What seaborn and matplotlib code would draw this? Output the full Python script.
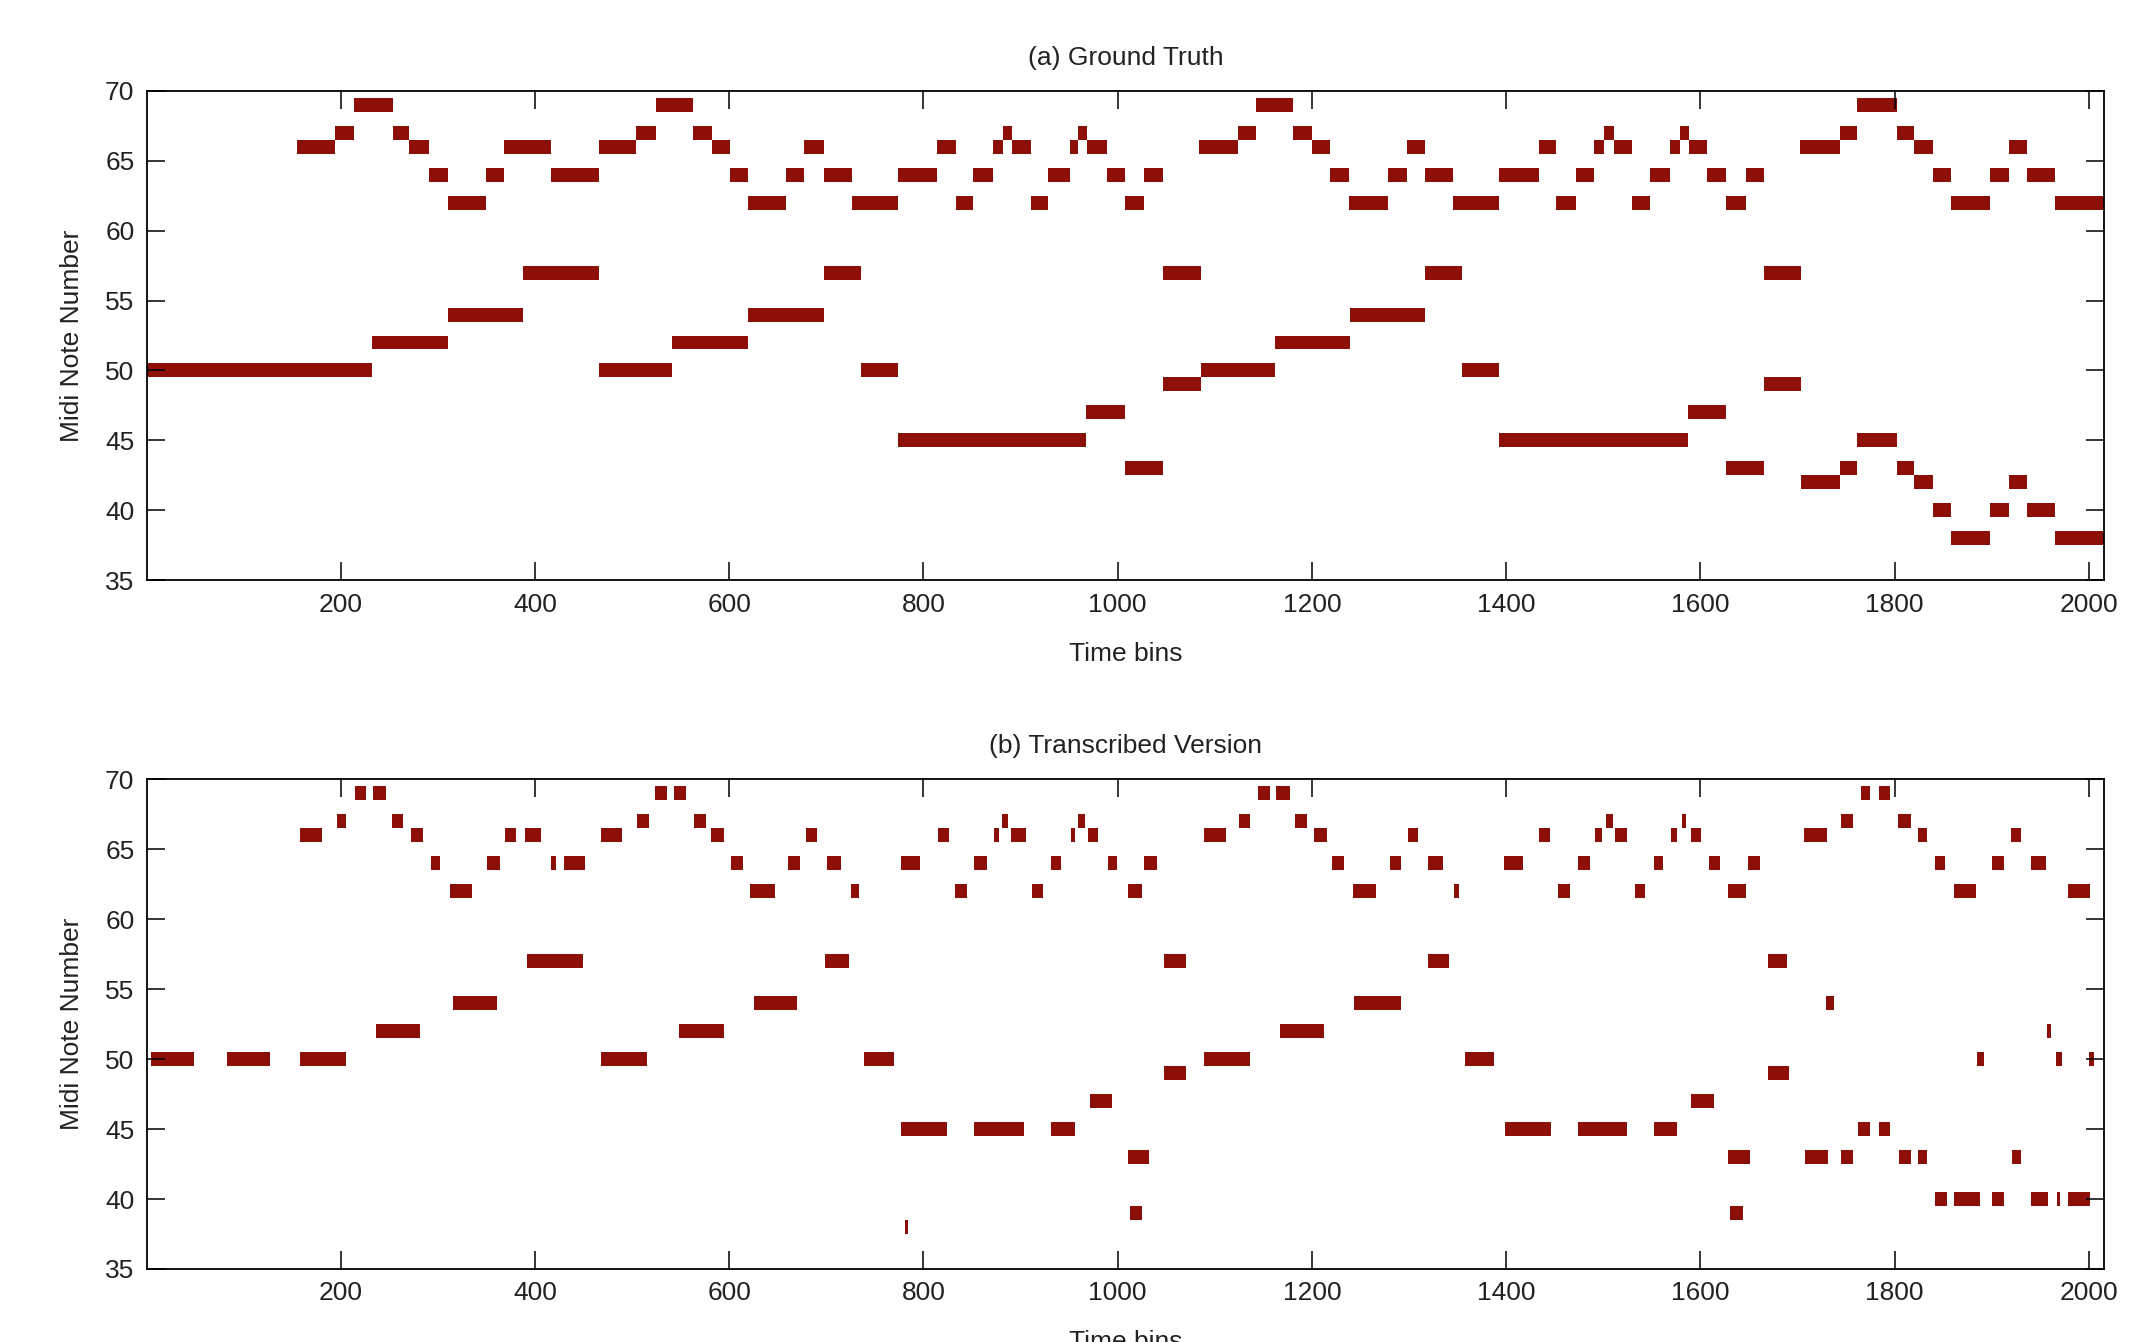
import numpy as np
import pandas as pd
import seaborn as sns
import matplotlib
matplotlib.use("Agg")
import matplotlib.pyplot as plt
from matplotlib.colors import ListedColormap

# ---------------- data ----------------
N_BINS = 2015
PITCH_MIN, PITCH_MAX = 35, 70

x_ticks = [200, 400, 600, 800, 1000, 1200, 1400, 1600, 1800, 2000]
y_ticks = [35, 40, 45, 50, 55, 60, 65, 70]

titles = ["(a) Ground Truth", "(b) Transcribed Version"]
x_label = "Time bins"
y_label = "Midi Note Number"

# Ground truth notes: (pitch, start bin, end bin)
gt_pitch = [66, 67, 69, 67, 66, 64, 62, 64, 66, 64, 66, 67, 69, 67, 66, 64, 62, 64, 66, 64,
            62, 64, 66, 62, 64, 66, 67, 66, 62, 64, 66, 67, 66, 64, 62, 64, 66, 67, 69, 67,
            66, 64, 62, 64, 66, 64, 62, 64, 66, 62, 64, 66, 67, 66, 62, 64, 66, 67, 66, 64,
            62, 64, 66, 67, 69, 67, 66, 64, 62, 64, 66, 64, 62,
            50, 52, 54, 57, 50, 52, 54, 57, 50, 45, 47, 43, 57, 49, 50, 52, 54, 57, 50, 45,
            47, 43, 57, 49, 42, 43, 45, 43, 42, 40, 38, 40, 42, 40, 38]
gt_start = [156, 195, 214, 254, 271, 291, 311, 350, 369, 417, 466, 505, 525, 563, 583, 601, 620, 659, 678, 698,
            727, 774, 814, 834, 852, 872, 882, 892, 911, 929, 951, 960, 969, 989, 1008, 1028, 1084, 1124, 1143, 1181,
            1201, 1219, 1239, 1279, 1298, 1317, 1346, 1393, 1434, 1452, 1472, 1491, 1501, 1511, 1530, 1549, 1569, 1579, 1589, 1607,
            1627, 1647, 1703, 1744, 1762, 1803, 1820, 1840, 1858, 1899, 1918, 1937, 1966,
            1, 233, 311, 388, 466, 542, 620, 698, 736, 774, 968, 1008, 1047, 1047, 1086, 1162, 1240, 1317, 1355, 1393,
            1588, 1627, 1666, 1666, 1704, 1744, 1762, 1803, 1820, 1840, 1858, 1899, 1918, 1937, 1966]
gt_end = [195, 214, 254, 271, 291, 311, 350, 369, 417, 466, 505, 525, 563, 583, 601, 620, 659, 678, 698, 727,
          774, 814, 834, 852, 872, 882, 892, 911, 929, 951, 960, 969, 989, 1008, 1028, 1047, 1124, 1143, 1181, 1201,
          1219, 1239, 1279, 1298, 1317, 1346, 1393, 1434, 1452, 1472, 1491, 1501, 1511, 1530, 1549, 1569, 1579, 1589, 1607, 1627,
          1647, 1666, 1744, 1762, 1803, 1820, 1840, 1858, 1899, 1918, 1937, 1966, 2016,
          233, 311, 388, 466, 542, 620, 698, 736, 774, 968, 1008, 1047, 1086, 1086, 1162, 1240, 1317, 1355, 1393, 1588,
          1627, 1666, 1704, 1704, 1744, 1762, 1803, 1820, 1840, 1858, 1899, 1918, 1937, 1966, 2016]

# Transcribed notes: (pitch, start bin, end bin)
tr_pitch = [66, 67, 69, 69, 67, 66, 64, 62, 64, 66, 66, 64, 64, 66, 67, 69, 69, 67, 66, 64,
            62, 64, 66, 64, 62, 64, 66, 62, 64, 66, 67, 66, 62, 64, 66, 67, 66, 64, 62, 64,
            66, 67, 69, 69, 67, 66, 64, 62, 64, 66, 64, 62, 64, 66, 62, 64, 66, 67, 66, 62,
            64, 66, 67, 66, 64, 62, 64, 66, 67, 69, 69, 67, 66, 64, 62, 64, 66, 64, 62,
            50, 50, 50, 52, 54, 57, 50, 52, 54, 57, 50, 38, 45, 45, 45, 47, 43, 39, 57, 49,
            50, 52, 54, 57, 50, 45, 45, 45, 47, 43, 39, 57, 49, 43, 54, 43, 45, 45, 43, 43,
            40, 40, 50, 40, 43, 40, 52, 40, 50, 40, 50]
tr_start = [159, 197, 215, 234, 253, 273, 293, 313, 351, 370, 390, 417, 430, 468, 506, 524, 544, 564, 582, 602,
            622, 661, 680, 701, 726, 777, 815, 833, 853, 873, 881, 891, 912, 932, 952, 960, 970, 990, 1011, 1028,
            1089, 1125, 1145, 1163, 1183, 1203, 1221, 1243, 1281, 1299, 1320, 1347, 1398, 1434, 1454, 1474, 1492, 1503, 1512, 1533,
            1553, 1570, 1581, 1591, 1609, 1629, 1649, 1707, 1745, 1766, 1784, 1804, 1824, 1842, 1862, 1901, 1920, 1941, 1979,
            5, 83, 159, 237, 316, 392, 468, 549, 626, 699, 739, 782, 777, 853, 932, 972, 1011, 1013, 1048, 1048,
            1089, 1168, 1244, 1320, 1358, 1399, 1474, 1553, 1591, 1629, 1631, 1670, 1670, 1708, 1730, 1745, 1763, 1784, 1805, 1824,
            1842, 1862, 1885, 1901, 1921, 1941, 1957, 1968, 1967, 1979, 2001]
tr_end = [181, 206, 227, 247, 265, 285, 303, 336, 364, 381, 407, 422, 452, 490, 518, 536, 556, 577, 595, 615,
          648, 673, 691, 716, 734, 797, 827, 845, 866, 878, 888, 906, 924, 942, 957, 967, 980, 1000, 1025, 1041,
          1112, 1137, 1157, 1178, 1195, 1216, 1233, 1266, 1292, 1310, 1335, 1352, 1418, 1446, 1466, 1487, 1499, 1510, 1525, 1543,
          1562, 1576, 1586, 1601, 1621, 1647, 1662, 1731, 1758, 1775, 1796, 1817, 1834, 1852, 1884, 1913, 1930, 1956, 2002,
          49, 128, 206, 282, 361, 450, 516, 595, 670, 724, 770, 785, 825, 904, 957, 995, 1033, 1025, 1071, 1071,
          1137, 1213, 1292, 1342, 1388, 1447, 1525, 1576, 1614, 1652, 1644, 1690, 1692, 1732, 1738, 1758, 1775, 1796, 1817, 1834,
          1854, 1888, 1892, 1913, 1930, 1958, 1961, 1971, 1973, 2002, 2006]

NOTE_COLOR = "#8c1007"


def piano_roll(pitches, starts, ends):
    rows = list(range(PITCH_MAX, PITCH_MIN - 1, -1))
    roll = np.zeros((len(rows), N_BINS))
    for p, s, e in zip(pitches, starts, ends):
        roll[PITCH_MAX - p, max(s - 1, 0):min(e - 1, N_BINS)] = 1
    return pd.DataFrame(roll, index=rows, columns=np.arange(1, N_BINS + 1))


sns.set_style("white")
plt.rcParams["font.family"] = ["Liberation Sans", "DejaVu Sans"]

fig = plt.figure(figsize=(21.45, 13.42), dpi=100)
ax_pos = [[0.0685, 0.5678, 0.9124, 0.3644],
          [0.0685, 0.0544, 0.9124, 0.3651]]

datasets = [(gt_pitch, gt_start, gt_end), (tr_pitch, tr_start, tr_end)]
cmap = ListedColormap(["white", NOTE_COLOR])

for pos, (pp, ss, ee), title in zip(ax_pos, datasets, titles):
    ax = fig.add_axes(pos)
    df = piano_roll(pp, ss, ee)
    sns.heatmap(df, ax=ax, cmap=cmap, vmin=0, vmax=1, cbar=False,
                xticklabels=False, yticklabels=False, rasterized=True)
    ax.set_xlim(0, N_BINS)
    ax.set_ylim(PITCH_MAX + 0.5 - PITCH_MIN, 0.5)
    ax.set_xticks([t - 0.5 for t in x_ticks])
    ax.set_xticklabels([str(t) for t in x_ticks])
    ax.set_yticks([PITCH_MAX + 0.5 - t for t in y_ticks])
    ax.set_yticklabels([str(t) for t in y_ticks], rotation=0)
    for sp in ax.spines.values():
        sp.set_visible(True)
        sp.set_color("black")
        sp.set_linewidth(1.3)
        sp.set_zorder(5)
    ax.tick_params(axis="both", direction="in", length=13, width=1.1, color="black",
                   top=True, right=True, bottom=True, left=True,
                   labelsize=19, pad=9, labelcolor="#222222")
    ax.set_axisbelow(False)
    ax.set_title(title, fontsize=19, pad=19, color="#222222")
    ax.set_xlabel(x_label, fontsize=19, labelpad=18, color="#222222")
    ax.set_ylabel(y_label, fontsize=19, labelpad=15, color="#222222")

fig.savefig("out.png", dpi=100, facecolor="white")
